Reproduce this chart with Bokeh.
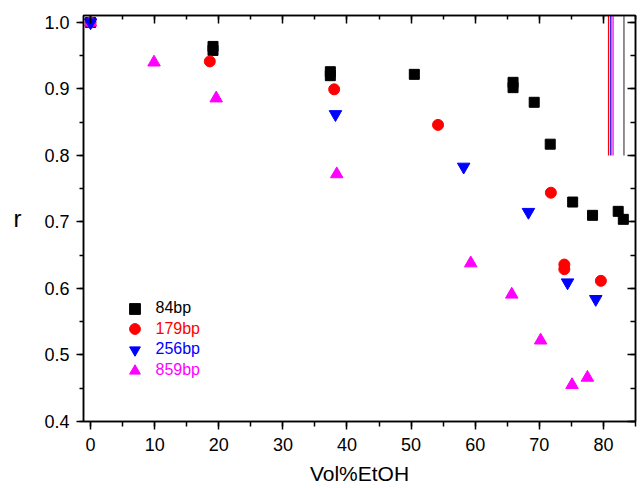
from bokeh.plotting import figure
from bokeh.models import (Range1d, LinearAxis, SingleIntervalTicker,
                          NumeralTickFormatter, CustomJSTickFormatter,
                          Legend, LegendItem)
from bokeh.embed import file_html
from bokeh.resources import INLINE

# ---- data ----
vol_84 = [0, 19.1, 19.1, 37.4, 37.4, 50.5, 65.9, 65.9, 69.2, 71.7, 75.2, 78.3, 82.3, 83.1]
r_84 = [1.0, 0.964, 0.958, 0.926, 0.920, 0.922, 0.910, 0.902, 0.880, 0.817, 0.730, 0.710, 0.716, 0.704]

vol_179 = [0, 18.6, 38.0, 54.2, 71.8, 73.9, 73.9, 79.6]
r_179 = [1.0, 0.9415, 0.8995, 0.846, 0.744, 0.636, 0.629, 0.6115]

vol_256 = [0, 38.2, 58.2, 68.3, 74.4, 78.8]
r_256 = [1.0, 0.862, 0.783, 0.715, 0.609, 0.584]

vol_859 = [0, 9.9, 19.6, 38.4, 59.3, 65.7, 70.2, 75.1, 77.5]
r_859 = [1.0, 0.940, 0.886, 0.772, 0.638, 0.591, 0.522, 0.455, 0.466]

line_x = [80.8, 81.15, 81.5, 83.2]
line_bottom = [0.8, 0.8, 0.8, 0.8]
line_top = [1.05, 1.05, 1.05, 1.05]
line_colors = ["#ff0000", "#0000ff", "#ff00ff", "#555555"]

x_label = "Vol%EtOH"
y_label = "r"
FONT = "Liberation Sans"

p = figure(width=640, height=488, output_backend="svg", toolbar_location=None,
           x_range=Range1d(-1.1, 85.0), y_range=Range1d(0.4, 1.0105),
           min_border_left=83, min_border_right=5, min_border_top=15,
           min_border_bottom=67)
p.xgrid.grid_line_color = None
p.ygrid.grid_line_color = None
p.outline_line_color = "black"
p.outline_line_width = 1.5
p.background_fill_color = "white"
p.border_fill_color = "white"

xt = SingleIntervalTicker(interval=10, num_minor_ticks=2)
yt = SingleIntervalTicker(interval=0.1, num_minor_ticks=2)

xa = p.xaxis[0]
xa.ticker = xt
xa.axis_label = x_label
xa.axis_label_text_font = FONT
xa.axis_label_text_font_size = "21px"
xa.axis_label_text_font_style = "normal"
xa.axis_label_standoff = 8
xa.major_label_text_font = FONT
xa.major_label_text_font_size = "18px"
xa.major_label_standoff = 8
xa.major_tick_in = 0
xa.major_tick_out = 8
xa.minor_tick_in = 0
xa.minor_tick_out = 5

ya = p.yaxis[0]
ya.ticker = yt
ya.formatter = NumeralTickFormatter(format="0.0")
ya.axis_label = y_label
ya.axis_label_text_font = FONT
ya.axis_label_text_font_size = "24px"
ya.axis_label_text_font_style = "normal"
ya.axis_label_standoff = 20
if "axis_label_orientation" in ya.properties():
    ya.axis_label_orientation = "horizontal"
ya.major_label_text_font = FONT
ya.major_label_text_font_size = "18px"
ya.major_label_standoff = 7
ya.major_tick_in = 0
ya.major_tick_out = 7
ya.minor_tick_in = 0
ya.minor_tick_out = 4

for ax in (xa, ya):
    ax.axis_line_width = 1.5
    ax.major_tick_line_width = 1.5
    ax.minor_tick_line_width = 1.5
    ax.axis_line_color = "black"
    ax.major_label_text_color = "black"
    ax.axis_label_text_color = "black"

blank = CustomJSTickFormatter(code="return ''")
top = LinearAxis(ticker=SingleIntervalTicker(interval=10, num_minor_ticks=2),
                 formatter=blank,
                 major_tick_in=8, major_tick_out=0, minor_tick_in=4, minor_tick_out=0,
                 major_label_standoff=0,
                 axis_line_width=1.5, major_tick_line_width=1.5, minor_tick_line_width=1.5)
right = LinearAxis(ticker=SingleIntervalTicker(interval=0.1, num_minor_ticks=2),
                   formatter=blank,
                   major_tick_in=8, major_tick_out=0, minor_tick_in=5, minor_tick_out=0,
                   major_label_standoff=0,
                   axis_line_width=1.5, major_tick_line_width=1.5, minor_tick_line_width=1.5)
p.add_layout(top, "above")
p.add_layout(right, "right")

p.segment(x0=line_x, y0=line_bottom, x1=line_x, y1=line_top,
          line_color=line_colors, line_width=1.3)

r1 = p.scatter(vol_84, r_84, marker="square", size=10, fill_color="black", line_color="black")
r2 = p.scatter(vol_179, r_179, marker="circle", size=11, fill_color="#ff0000", line_color="#ff0000")
r4 = p.scatter(vol_859, r_859, marker="triangle", size=12.5, fill_color="#ff00ff", line_color="#ff00ff")
r3 = p.scatter(vol_256, r_256, marker="inverted_triangle", size=12.5, fill_color="#0000ff", line_color="#0000ff")

legend_specs = [("84bp", r1, "black", 99.5),
                ("179bp", r2, "#ff0000", 78.8),
                ("256bp", r3, "#0000ff", 58.5),
                ("859bp", r4, "#ff00ff", 37.5)]
for lab, rend, col, vy in legend_specs:
    leg = Legend(items=[LegendItem(label=lab, renderers=[rend])],
                 location=(37.5, vy), padding=0, margin=0, spacing=0,
                 glyph_width=27, glyph_height=27, label_standoff=8,
                 label_text_font=FONT, label_text_font_size="16px",
                 label_text_color=col, border_line_color=None,
                 background_fill_alpha=0)
    p.add_layout(leg)

open("out.html", "w").write(file_html(p, INLINE))
